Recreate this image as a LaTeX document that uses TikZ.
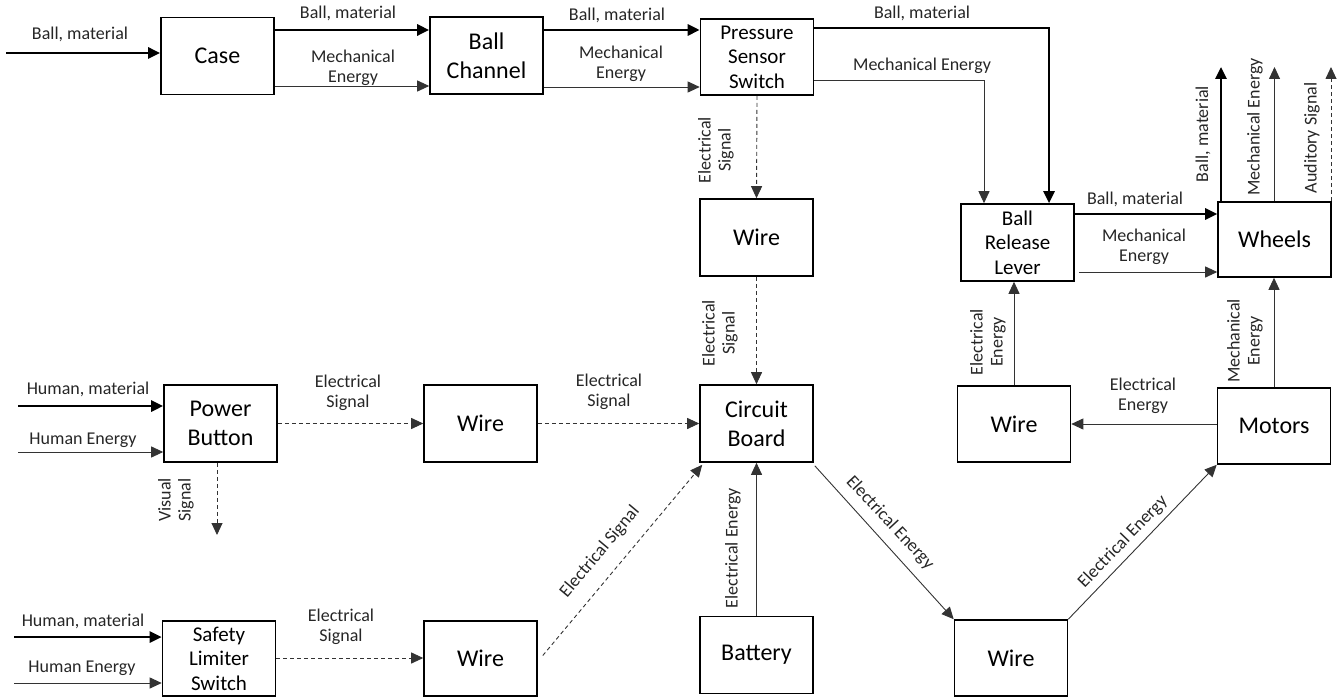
\documentclass[tikz,border=0pt]{standalone}
\usepackage{fontspec}
\setmainfont{Carlito}
\usetikzlibrary{arrows.meta}
\begin{document}
\begin{tikzpicture}[x=1pt,y=-1pt,
  box/.style={draw=black,line width=1.6pt,minimum width=113pt,minimum height=77pt,inner sep=0pt,align=center,font=\fontsize{24}{29}\selectfont},
  box3/.style={box,font=\fontsize{21}{24.5}\selectfont},
  lbl/.style={inner sep=0pt,align=center,text=black!85,font=\fontsize{18}{20}\selectfont},
  tip/.style={-{Triangle[length=12pt,width=11pt]}},
  thk/.style={tip,line width=2.6pt,draw=black},
  thn/.style={tip,line width=0.9pt,draw=black!80},
  dsh/.style={tip,line width=0.9pt,draw=black!80,dash pattern=on 4pt off 3pt}]
\useasboundingbox (0,0) rectangle (1343,698);
% boxes
\node[box] (case) at (217.5,56) {Case};
\node[box] (bc) at (486.5,55.5) {Ball\\Channel};
\node[box3,minimum height=76pt] (pss) at (757,57) {Pressure\\Sensor\\Switch};
\node[box] (w1) at (756.5,237.5) {Wire};
\node[box] (cb) at (756.5,423.5) {Circuit\\Board};
\node[box] (bat) at (756.5,655) {Battery};
\node[box3] (brl) at (1017.5,242.5) {Ball\\Release\\Lever};
\node[box,minimum height=75pt] (wh) at (1274.5,239.5) {Wheels};
\node[box,minimum height=76pt] (w2) at (1014,424) {Wire};
\node[box,minimum height=76pt] (mot) at (1274,426) {Motors};
\node[box,minimum height=76pt] (w3) at (1011,658) {Wire};
\node[box] (pb) at (220.5,423.5) {Power\\Button};
\node[box] (w4) at (480.5,423.5) {Wire};
\node[box3,minimum height=75pt] (sls) at (219,658.5) {Safety\\Limiter\\Switch};
\node[box,minimum height=75pt] (w5) at (480.5,658.5) {Wire};
% free ends
\coordinate (in1) at (6,53);
\coordinate (in2) at (18,406);
\coordinate (in3) at (18,452);
\coordinate (in4) at (14,637);
\coordinate (in5) at (14,683);
\coordinate (o1) at (1221,67);
\coordinate (o2) at (1274.5,67);
\coordinate (o3) at (1331,67);
\coordinate (o4) at (217,535);
% top row
\draw[thk] (in1) -- (case.west |- in1);
\draw[thk] (case.east |- 0,30) -- (bc.west |- 0,30);
\draw[thn] (case.east |- 0,86) -- (bc.west |- 0,86);
\draw[thk] (bc.east |- 0,30) -- (pss.west |- 0,30);
\draw[thn] (bc.east |- 0,87) -- (pss.west |- 0,87);
\draw[thk] (pss.east |- 0,28) -| (brl.north -| 1049,0);
\draw[thn] (pss.east |- 0,80) -| (brl.north -| 984,0);
\draw[thk] (brl.east |- 0,214) -- (wh.west |- 0,214);
\draw[thn] ([xshift=4pt]brl.east |- 0,272) -- (wh.west |- 0,272);
\draw[thk] (wh.north -| o1) -- (o1);
\draw[thn] (wh.north -| o2) -- (o2);
\draw[dsh] (wh.north -| o3) -- (o3);
\draw[dsh] (pss.south) -- (w1.north);
\draw[dsh] (w1.south) -- (cb.north);
% middle row
\draw[thk] (in2) -- (pb.west |- in2);
\draw[thn] (in3) -- (pb.west |- in3);
\draw[dsh] (pb.east) -- (w4.west);
\draw[dsh] (w4.east) -- (cb.west);
\draw[dsh] (pb.south -| o4) -- (o4);
\draw[thn] (mot.west |- 0,424) -- (w2.east |- 0,424);
\draw[thn] (w2.north) -- (brl.south -| w2.north);
\draw[thn] (mot.north) -- (wh.south -| mot.north);
% bottom row
\draw[thk] (in4) -- (sls.west |- in4);
\draw[thn] (in5) -- (sls.west |- in5);
\draw[dsh] (sls.east |- 0,658) -- (w5.west |- 0,658);
\draw[dsh] ([xshift=5pt,yshift=3pt]w5.east) -- ([xshift=3pt,yshift=-2pt]cb.south west);
\draw[thn] (bat.north) -- (cb.south);
\draw[thn] ([xshift=1pt,yshift=-3pt]cb.south east) -- (w3.north west);
\draw[thn] (w3.north east) -- (mot.south west);
% labels
\node[lbl] (l1) at (80,34) {Ball, material};
\node[lbl] (l2) at (348,13) {Ball, material};
\node[lbl] (l3) at (353,68) {Mechanical\\Energy};
\node[lbl] (l4) at (617,15) {Ball, material};
\node[lbl] (l5) at (621,64) {Mechanical\\Energy};
\node[lbl] (l6) at (922,13) {Ball, material};
\node[lbl] (l7) at (922,66) {Mechanical Energy};
\node[lbl] (l8) at (1135,199) {Ball, material};
\node[lbl] (l9) at (1144,247) {Mechanical\\Energy};
\node[lbl,rotate=90] (l10) at (1203,134) {Ball, material};
\node[lbl,rotate=90] (l11) at (1255,127) {Mechanical Energy};
\node[lbl,rotate=90] (l12) at (1312,138) {Auditory Signal};
\node[lbl,rotate=90] (l13) at (716,150) {Electrical\\Signal};
\node[lbl,rotate=90] (l14) at (720,333) {Electrical\\Signal};
\node[lbl] (l15) at (348,393) {Electrical\\Signal};
\node[lbl] (l16) at (609,392) {Electrical\\Signal};
\node[lbl] (l17) at (88,389) {Human, material};
\node[lbl] (l18) at (83,440) {Human Energy};
\node[lbl,rotate=90] (l19) at (176,500) {Visual\\Signal};
\node[lbl] (l20) at (83,621) {Human, material};
\node[lbl] (l21) at (82,668) {Human Energy};
\node[lbl] (l22) at (341,627) {Electrical\\Signal};
\node[lbl,rotate=50] (l23) at (600,552) {Electrical Signal};
\node[lbl,rotate=90] (l24) at (733,548) {Electrical Energy};
\node[lbl,rotate=-47] (l25) at (890,523) {Electrical Energy};
\node[lbl,rotate=46] (l26) at (1123,542) {Electrical Energy};
\node[lbl,rotate=90] (l27) at (988,342) {Electrical\\Energy};
\node[lbl] (l28) at (1143,396) {Electrical\\Energy};
\node[lbl,rotate=90] (l29) at (1245,341) {Mechanical\\Energy};
\end{tikzpicture}
\end{document}
